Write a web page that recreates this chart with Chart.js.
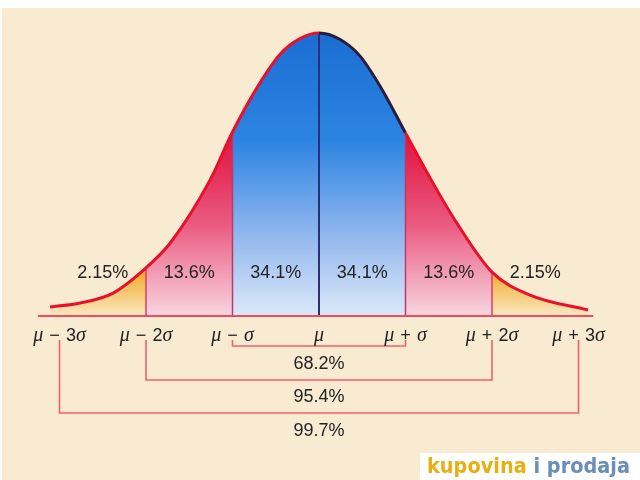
<!DOCTYPE html>
<html>
<head>
<meta charset="utf-8">
<script src="https://cdn.jsdelivr.net/npm/chart.js@4/dist/chart.umd.min.js"></script>
<style>
  html, body { margin: 0; padding: 0; background: #ffffff; }
  #wrap { width: 640px; height: 480px; position: relative; }
</style>
</head>
<body>
<div id="wrap"><canvas id="bell"></canvas></div>
<script>
// curve: x in sigma units, y relative to the peak height
const curveX = [-3.11, -2.76, -2.38, -2.0, -1.72, -1.26, -1.0, -0.7, -0.45, -0.22, 0, 0.24, 0.47, 0.72, 1.0, 1.28, 1.59, 2.0, 2.44, 3.11];
const curveY = [0.032, 0.046, 0.081, 0.17, 0.258, 0.48, 0.65, 0.815, 0.925, 0.98, 1.0, 0.978, 0.92, 0.805, 0.647, 0.49, 0.33, 0.155, 0.074, 0.021];

const tickValues = [-3, -2, -1, 0, 1, 2, 3];
const tickLabels = ["μ − 3σ", "μ − 2σ", "μ − σ", "μ", "μ + σ", "μ + 2σ", "μ + 3σ"];

const regionBounds = [-3.11, -2, -1, 0, 1, 2, 3.11];
const regionKinds = ["tail", "mid", "core", "core", "mid", "tail"];
const regionLabels = ["2.15%", "13.6%", "34.1%", "34.1%", "13.6%", "2.15%"];

const bracketSpans = [1, 2, 3];
const bracketLabels = ["68.2%", "95.4%", "99.7%"];

const axisEnds = [-3.25, 3.17];

// pixel mapping: mu at x=319, sigma = 86.5px, baseline y=316, peak y=33
const X_MIN = -319 / 86.5, X_MAX = (640 - 319) / 86.5;
const Y_MIN = -164 / 283, Y_MAX = 316 / 283;

const bracketTop = -0.085;
const bracketDepth = [-0.106, -0.226, -0.343];
const bracketTextY = [-0.170, -0.286, -0.407];
const regionTextY = 0.152;
const tickTextY = -0.071;

function heightAt(x) {
    return curveY[curveX.indexOf(x)];
}

function pts(lo, hi) {
    let res = [];
    for (let i = 0; i < curveX.length; i++) {
        if (curveX[i] >= lo && curveX[i] <= hi) res.push({x: curveX[i], y: curveY[i]});
    }
    return res;
}

function regionFill(chart, kind) {
    if (!chart.chartArea) return "rgba(0,0,0,0)";
    let ys = chart.scales.y;
    let g;
    if (kind == "core") {
        g = chart.ctx.createLinearGradient(0, ys.getPixelForValue(1.0), 0, ys.getPixelForValue(0));
        g.addColorStop(0, "#1a6ed2");
        g.addColorStop(0.38, "#2c84e2");
        g.addColorStop(0.7, "#8db5ee");
        g.addColorStop(1, "#dde8f8");
    } else if (kind == "mid") {
        g = chart.ctx.createLinearGradient(0, ys.getPixelForValue(0.65), 0, ys.getPixelForValue(0));
        g.addColorStop(0, "#e0103c");
        g.addColorStop(0.5, "#ea5a80");
        g.addColorStop(1, "#f8d6e0");
    } else {
        g = chart.ctx.createLinearGradient(0, ys.getPixelForValue(0.17), 0, ys.getPixelForValue(0));
        g.addColorStop(0, "#f2a61c");
        g.addColorStop(1, "#f9e8c4");
    }
    return g;
}

let datasets = [];

// outline of the curve
datasets.push({
    data: pts(-10, 10),
    borderColor: "#e8102a",
    borderWidth: 3,
    pointRadius: 0,
    fill: false,
    cubicInterpolationMode: "monotone",
    segment: {
        borderColor: function(ctx) {
            let x0 = curveX[ctx.p0DataIndex];
            return (x0 >= 0 && x0 < 1) ? "#2a1c3c" : undefined;
        }
    },
    order: 0
});

// shaded regions
for (let i = 0; i < regionKinds.length; i++) {
    let kind = regionKinds[i];
    datasets.push({
        data: pts(regionBounds[i], regionBounds[i + 1]),
        borderWidth: 0,
        borderColor: "rgba(0,0,0,0)",
        pointRadius: 0,
        fill: "origin",
        cubicInterpolationMode: "monotone",
        backgroundColor: function(ctx) { return regionFill(ctx.chart, kind); },
        order: 5
    });
}

// dividers between regions
const dividerColors = {"-2": "#d84062", "-1": "#b83a6e", "0": "#2c2f78", "1": "#b83a6e", "2": "#d84062"};
for (let x of [-2, -1, 0, 1, 2]) {
    datasets.push({
        data: [{x: x, y: 0}, {x: x, y: heightAt(x)}],
        borderColor: dividerColors[String(x)],
        borderWidth: x == 0 ? 2 : 1.5,
        pointRadius: 0,
        fill: false,
        order: 2
    });
}

// base line
datasets.push({
    data: [{x: axisEnds[0], y: 0}, {x: axisEnds[1], y: 0}],
    borderColor: "#f04a5e",
    borderWidth: 2,
    pointRadius: 0,
    fill: false,
    order: 1
});

// brackets under the axis
for (let i = 0; i < bracketSpans.length; i++) {
    let k = bracketSpans[i];
    datasets.push({
        data: [{x: -k, y: bracketTop}, {x: -k, y: bracketDepth[i]}, {x: k, y: bracketDepth[i]}, {x: k, y: bracketTop}],
        borderColor: "#f2606e",
        borderWidth: 1.6,
        pointRadius: 0,
        fill: false,
        order: 1
    });
}

function drawMixed(ctx, text, cx, cy) {
    let parts = [];
    let total = 0;
    for (let ch of text) {
        let font = /[μσ]/.test(ch) ? 'italic 20px "Liberation Serif"' : '18px "Liberation Sans"';
        if (ch == " ") font = '22px "Liberation Sans"';
        ctx.font = font;
        let w = ctx.measureText(ch).width;
        parts.push({ch: ch, font: font, w: w});
        total += w;
    }
    let x = cx - total / 2;
    for (let p of parts) {
        ctx.font = p.font;
        ctx.fillText(p.ch, x, cy);
        x += p.w;
    }
}

const paperPlugin = {
    id: "paper",
    beforeDraw(chart) {
        let ctx = chart.ctx;
        ctx.save();
        ctx.fillStyle = "#ffffff";
        ctx.fillRect(0, 0, chart.width, chart.height);
        ctx.fillStyle = "#f8ebd2";
        ctx.fillRect(2, 8, chart.width - 2, chart.height - 8);
        ctx.restore();
    },
    afterDatasetsDraw(chart) {
        let ctx = chart.ctx;
        let xs = chart.scales.x, ys = chart.scales.y;
        ctx.save();
        ctx.fillStyle = "#232323";
        ctx.textBaseline = "middle";

        ctx.font = '18px "Liberation Sans"';
        ctx.textAlign = "center";
        for (let i = 0; i < regionLabels.length; i++) {
            let mid = (tickValues[i] + tickValues[i + 1]) / 2;
            ctx.fillText(regionLabels[i], xs.getPixelForValue(mid), ys.getPixelForValue(regionTextY));
        }

        ctx.textAlign = "left";
        for (let i = 0; i < tickLabels.length; i++) {
            drawMixed(ctx, tickLabels[i], xs.getPixelForValue(tickValues[i]), ys.getPixelForValue(tickTextY));
        }

        ctx.textAlign = "center";
        ctx.font = '18px "Liberation Sans"';
        for (let i = 0; i < bracketLabels.length; i++) {
            ctx.fillText(bracketLabels[i], xs.getPixelForValue(0), ys.getPixelForValue(bracketTextY[i]));
        }

        // watermark
        ctx.fillStyle = "#ffffff";
        ctx.fillRect(420, 453, 220, 27);
        ctx.textAlign = "left";
        ctx.textBaseline = "alphabetic";
        ctx.font = 'bold 21px "DejaVu Sans"';
        let w1 = ctx.measureText("kupovina ").width;
        let w2 = ctx.measureText("i prodaja").width;
        let sx = 203 / (w1 + w2);
        ctx.translate(427, 473);
        ctx.scale(sx, 1);
        ctx.fillStyle = "#e6b012";
        ctx.fillText("kupovina ", 0, 0);
        ctx.fillStyle = "#6a8fb6";
        ctx.fillText("i prodaja", w1, 0);
        ctx.restore();
    }
};

let bellChart = new Chart(document.getElementById("bell"), {
    type: "line",
    data: {datasets: datasets},
    options: {
        responsive: true,
        maintainAspectRatio: false,
        animation: false,
        layout: {padding: 0},
        scales: {
            x: {type: "linear", min: X_MIN, max: X_MAX, display: false},
            y: {type: "linear", min: Y_MIN, max: Y_MAX, display: false}
        },
        plugins: {
            legend: {display: false},
            tooltip: {enabled: false}
        }
    },
    plugins: [paperPlugin]
});
</script>
</body>
</html>
